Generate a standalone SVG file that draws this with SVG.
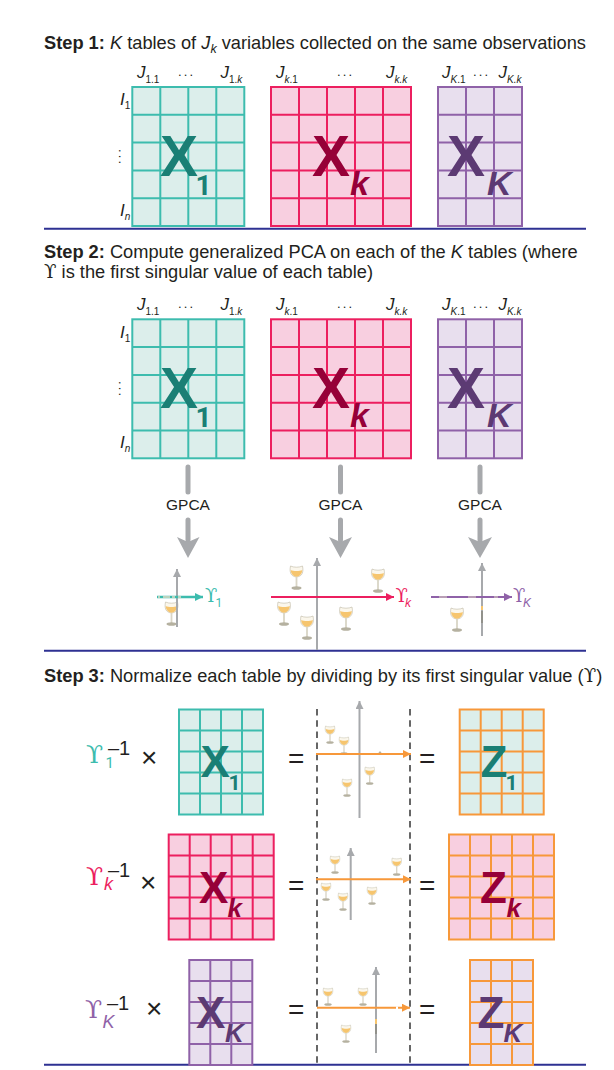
<svg xmlns="http://www.w3.org/2000/svg" width="614" height="1070" viewBox="0 0 614 1070">
<style>
text{font-family:"Liberation Sans",Arial,sans-serif;fill:#231f20}
.h{font-size:18.25px}
.b{font-weight:bold}
.i{font-style:italic}
.u{font-family:"DejaVu Serif","Liberation Serif",serif}
.j{font-size:17px;font-style:italic}
.s{font-size:10px}
.n{font-style:normal}
.d{font-size:13px}
.big{font-weight:bold;font-size:57px}
.sub{font-weight:bold;font-size:28px;font-family:Roboto,"Liberation Sans",sans-serif}
.subi{font-weight:bold;font-style:italic;font-size:34px}
.big3{font-weight:bold;font-size:44px}
.sub3{font-weight:bold;font-size:21px;font-family:Roboto,"Liberation Sans",sans-serif}
.subi3{font-weight:bold;font-style:italic;font-size:26px}
.g{font-size:15.5px;text-anchor:middle}
.m{font-size:20px}
.x{font-size:28px}
.e{font-size:28px}
.nf{font-family:Roboto,"Liberation Sans",sans-serif}
.t{stroke-width:2;stroke:#3dbcae;fill:#dceeeb}
.p{stroke-width:2;stroke:#ec1f5f;fill:#f8cfe0}
.v{stroke-width:2;stroke:#8f62a8;fill:#e8dfee}
.ot{stroke-width:2;stroke:#f7983a;fill:#dceeeb}
.op{stroke-width:2;stroke:#f7983a;fill:#f8cfe0}
.ov{stroke-width:2;stroke:#f7983a;fill:#e8dfee}
.ct{fill:#1a7f75}.cp{fill:#960038}.cv{fill:#5c3a73}
.lt{fill:#3dbcae}.lp{fill:#ec1f5f}.lv{fill:#8f62a8}
.rule{stroke:#2e3192;stroke-width:2}
.arr{stroke:#a7a9ac;stroke-width:5;stroke-linecap:round;fill:none}
.head{fill:#a7a9ac}
.ax{stroke:#a7a9ac;stroke-width:2;fill:none;marker-end:url(#mg)}
.dash{stroke:#666;stroke-width:2;stroke-dasharray:6.5 4.7;fill:none}
.o{stroke:#f7983a;stroke-width:2;fill:none;marker-end:url(#mo)}
</style>
<defs>
<marker id="mg" markerUnits="userSpaceOnUse" markerWidth="9" markerHeight="9" refX="8" refY="4" orient="auto"><path d="M0 0L8 4L0 8z" fill="#a7a9ac"/></marker>
<marker id="mo" markerUnits="userSpaceOnUse" markerWidth="9" markerHeight="9" refX="8" refY="4" orient="auto"><path d="M0 0L8 4L0 8z" fill="#f7983a"/></marker>
<marker id="mt" markerUnits="userSpaceOnUse" markerWidth="9" markerHeight="9" refX="8" refY="4" orient="auto"><path d="M0 0L8 4L0 8z" fill="#3dbcae"/></marker>
<marker id="mp" markerUnits="userSpaceOnUse" markerWidth="9" markerHeight="9" refX="8" refY="4" orient="auto"><path d="M0 0L8 4L0 8z" fill="#ec1f5f"/></marker>
<marker id="mv" markerUnits="userSpaceOnUse" markerWidth="9" markerHeight="9" refX="8" refY="4" orient="auto"><path d="M0 0L8 4L0 8z" fill="#8f62a8"/></marker>
<g id="g4"><rect width="112" height="139"/><path d="M28 0V139M56 0V139M84 0V139M0 27.8H112M0 55.6H112M0 83.4H112M0 111.2H112" fill="none"/></g>
<g id="g5"><rect width="140" height="139"/><path d="M28 0V139M56 0V139M84 0V139M112 0V139M0 27.8H140M0 55.6H140M0 83.4H140M0 111.2H140" fill="none"/></g>
<g id="g3"><rect width="84" height="139"/><path d="M28 0V139M56 0V139M0 27.8H84M0 55.6H84M0 83.4H84M0 111.2H84" fill="none"/></g>
<g id="s4"><rect width="84" height="105"/><path d="M21 0V105M42 0V105M63 0V105M0 21H84M0 42H84M0 63H84M0 84H84" fill="none"/></g>
<g id="s5"><rect width="105" height="105"/><path d="M21 0V105M42 0V105M63 0V105M84 0V105M0 21H105M0 42H105M0 63H105M0 84H105" fill="none"/></g>
<g id="s3"><rect width="63" height="105"/><path d="M21 0V105M42 0V105M0 21H63M0 42H63M0 63H63M0 84H63" fill="none"/></g>
<g id="glass">
<path d="M-6 0C-7.2 6-6 10.4 0 11C6 10.4 7.2 6 6 0C3 1.6-3 1.6-6 0z" fill="#fbf7ec" stroke="#bdb7a2" stroke-width=".6"/>
<path d="M-5.8 4C-3 5.400 3 5.400 5.800 4C5.600 8 3 10.400 0 10.800C-3 10.400-5.600 8-5.800 4z" fill="#f6c56e"/>
<rect x="-.9" y="11" width="1.8" height="10" fill="#d9d5c6"/>
<ellipse cx="0" cy="22" rx="5" ry="1.8" fill="#b5b1a0"/>
</g>
</defs>
<rect width="614" height="1070" fill="#fff"/>

<g id="headings">
<text class="h" x="44" y="49"><tspan class="b">Step 1:</tspan> <tspan class="i">K</tspan> tables of <tspan class="i">J</tspan><tspan class="i" font-size="12.500" dy="4">k</tspan><tspan dy="-4"> variables collected on the same observations</tspan></text>
<text class="h" x="44" y="258"><tspan class="b">Step 2:</tspan> Compute generalized PCA on each of the <tspan class="i">K</tspan> tables (where</text>
<text class="h" x="44" y="278"><tspan class="u">ϒ</tspan> is the first singular value of each table)</text>
<text class="h" x="44" y="682"><tspan class="b">Step 3:</tspan> Normalize each table by dividing by its first singular value (<tspan class="u">ϒ</tspan>)</text>
</g>

<g id="rules">
<path class="rule" d="M44 228.700H586M44 650.700H586M44 1064.700H586"/>
</g>

<g id="step1-x1">
<use href="#g4" class="t" transform="translate(132.300 87)"/>
<text class="big ct" x="160" y="176">X</text><text class="sub ct" x="195.500" y="195">1</text>
</g>
<g id="step1-xk">
<use href="#g5" class="p" transform="translate(271 87)"/>
<text class="big cp" x="312" y="176">X</text><text class="subi cp" x="350" y="195">k</text>
</g>
<g id="step1-xK">
<use href="#g3" class="v" transform="translate(438 87)"/>
<text class="big cv" x="447" y="176">X</text><text class="subi cv" x="487" y="195">K</text>
</g>
<g id="step1-labels">
<text class="j" x="137" y="78">J<tspan class="s n" dy="5">1.1</tspan></text>
<text class="d" x="178" y="76" textLength="15">. . .</text>
<text class="j" x="220.500" y="78">J<tspan class="s n" dy="5">1.<tspan class="i">k</tspan></tspan></text>
<text class="j" x="276" y="78">J<tspan class="s" dy="5">k<tspan class="n">.1</tspan></tspan></text>
<text class="d" x="337" y="76" textLength="15">. . .</text>
<text class="j" x="386" y="78">J<tspan class="s" dy="5">k.k</tspan></text>
<text class="j" x="442" y="78">J<tspan class="s" dy="5">K<tspan class="n">.1</tspan></tspan></text>
<text class="d" x="473" y="76" textLength="15">. . .</text>
<text class="j" x="498.500" y="78">J<tspan class="s" dy="5">K.k</tspan></text>
<text class="j" x="120" y="105">I<tspan class="s n" dy="4">1</tspan></text>
<text class="d" x="119" y="149" textLength="15" transform="rotate(90 119 149)">. . .</text>
<text class="j" x="120" y="216">I<tspan class="s" dy="4">n</tspan></text>
</g>

<g id="step2-x1">
<use href="#g4" class="t" transform="translate(132.300 319.300)"/>
<text class="big ct" x="160" y="408">X</text><text class="sub ct" x="195.500" y="427">1</text>
</g>
<g id="step2-xk">
<use href="#g5" class="p" transform="translate(271 319.300)"/>
<text class="big cp" x="312" y="408">X</text><text class="subi cp" x="350" y="427">k</text>
</g>
<g id="step2-xK">
<use href="#g3" class="v" transform="translate(438 319.300)"/>
<text class="big cv" x="447" y="408">X</text><text class="subi cv" x="487" y="427">K</text>
</g>
<g id="step2-labels">
<text class="j" x="137" y="310">J<tspan class="s n" dy="5">1.1</tspan></text>
<text class="d" x="178" y="308" textLength="15">. . .</text>
<text class="j" x="220.500" y="310">J<tspan class="s n" dy="5">1.<tspan class="i">k</tspan></tspan></text>
<text class="j" x="276" y="310">J<tspan class="s" dy="5">k<tspan class="n">.1</tspan></tspan></text>
<text class="d" x="337" y="308" textLength="15">. . .</text>
<text class="j" x="386" y="310">J<tspan class="s" dy="5">k.k</tspan></text>
<text class="j" x="442" y="310">J<tspan class="s" dy="5">K<tspan class="n">.1</tspan></tspan></text>
<text class="d" x="473" y="308" textLength="15">. . .</text>
<text class="j" x="498.500" y="310">J<tspan class="s" dy="5">K.k</tspan></text>
<text class="j" x="120" y="338">I<tspan class="s n" dy="4">1</tspan></text>
<text class="d" x="119" y="381" textLength="15" transform="rotate(90 119 381)">. . .</text>
<text class="j" x="120" y="448">I<tspan class="s" dy="4">n</tspan></text>
</g>

<g id="connectors">
<path class="arr" d="M188 467V492M188 520V540"/><polygon class="head" points="177,537 188,542 199.500,537 188,558"/>
<path class="arr" d="M340.500 467V492M340.500 520V540"/><polygon class="head" points="329,537 340.500,542 352,537 340.500,558"/>
<path class="arr" d="M480 467V492M480 520V540"/><polygon class="head" points="468,537 480,542 492,537 480,558"/>
</g>
<g id="gpca-1"><text class="g" x="188" y="510">GPCA</text></g>
<g id="gpca-2"><text class="g" x="340.500" y="510">GPCA</text></g>
<g id="gpca-3"><text class="g" x="480" y="510">GPCA</text></g>

<g id="plot-1">
<use href="#glass" transform="translate(171.500 602)"/>
<path class="ax" d="M177 627V569"/>
<path d="M157 597H203" stroke="#3dbcae" stroke-width="2.500" fill="none" marker-end="url(#mt)"/>
<path d="M158 597H160M163 597H170M172 597H175M178 597H181" stroke="#e3dcc4" stroke-width="1.500"/>
<text class="u lt" font-size="18" x="205" y="602">ϒ</text><text class="lt nf" font-size="12" x="215.500" y="607">1</text>
</g>
<g id="plot-k">
<path class="ax" d="M317 650V558"/>
<use href="#glass" transform="translate(296.500 566)"/>
<use href="#glass" transform="translate(378 569)"/>
<use href="#glass" transform="translate(284 602)"/>
<use href="#glass" transform="translate(307 616)"/>
<use href="#glass" transform="translate(346 607)"/>
<path d="M271 597H394" stroke="#ec1f5f" stroke-width="2" fill="none" marker-end="url(#mp)"/>
<text class="u lp" font-size="18" x="395.500" y="602">ϒ</text><text class="lp i" font-size="12" x="405" y="607">k</text>
</g>
<g id="plot-K">
<path class="ax" d="M482 636V563"/>
<use href="#glass" transform="translate(457 608)"/>
<path d="M431 597H512" stroke="#8f62a8" stroke-width="2" fill="none" marker-end="url(#mv)"/>
<path d="M439 597H447M468 597H476M494 597H498" stroke="#e3dcc4" stroke-width="1.200"/>
<path d="M482 606V610" stroke="#f6c56e" stroke-width="2"/><path d="M482 611V623" stroke="#8a8a80" stroke-width="1.500"/>
<text class="u lv" font-size="18" x="513" y="602">ϒ</text><text class="lv i" font-size="12" x="523" y="607">K</text>
</g>

<g id="dashes"><path class="dash" d="M317 709V1064M410 709V1064"/></g>

<g id="row1-factor">
<text class="u lt" font-size="25" x="86" y="763">ϒ</text><text class="lt nf" font-size="15" x="105.500" y="768">1</text>
<text class="m" x="108" y="755">–1</text><text class="x" x="141" y="767">×</text>
</g>
<g id="row1-x">
<use href="#s4" class="t" transform="translate(179 709.500)"/>
<text class="big3 ct" x="200.500" y="777">X</text><text class="sub3 ct" x="228.500" y="790">1</text>
</g>
<g id="row1-plot">
<path class="ax" d="M359.500 818V701"/>
<use href="#glass" transform="translate(330 726) scale(.75)"/>
<use href="#glass" transform="translate(344 737) scale(.75)"/>
<use href="#glass" transform="translate(369.700 767) scale(.75)"/>
<use href="#glass" transform="translate(347 779) scale(.75)"/>
<path d="M378 753.500L380 751L382 753.500z" fill="#b5b1a0"/>
<path class="o" d="M316 754H411"/>
<text class="e" x="288" y="768">=</text>
<text class="e" x="419" y="768">=</text>
</g>
<g id="row1-z">
<use href="#s4" class="ot" transform="translate(459.700 709.500)"/>
<text class="big3 ct" x="480.500" y="777">Z</text><text class="sub3 ct" x="505.500" y="790">1</text>
</g>

<g id="row2-factor">
<text class="u lp" font-size="25" x="86" y="885">ϒ</text><text class="lp i" font-size="18" x="104" y="890">k</text>
<text class="m" x="108" y="877">–1</text><text class="x" x="140" y="892">×</text>
</g>
<g id="row2-x">
<use href="#s5" class="p" transform="translate(168.700 834.500)"/>
<text class="big3 cp" x="199" y="903">X</text><text class="subi3 cp" x="227.500" y="917">k</text>
</g>
<g id="row2-plot">
<path class="ax" d="M350.700 920V848"/>
<use href="#glass" transform="translate(335 856) scale(.75)"/>
<use href="#glass" transform="translate(396.700 858) scale(.75)"/>
<use href="#glass" transform="translate(326 883) scale(.75)"/>
<use href="#glass" transform="translate(343 893) scale(.75)"/>
<use href="#glass" transform="translate(372 887) scale(.75)"/>
<path class="o" d="M316 879.300H411"/>
<text class="e" x="288" y="895">=</text>
<text class="e" x="419" y="895">=</text>
</g>
<g id="row2-z">
<use href="#s5" class="op" transform="translate(449 834.500)"/>
<text class="big3 cp" x="480" y="903">Z</text><text class="subi3 cp" x="506.500" y="917">k</text>
</g>

<g id="row3-factor">
<text class="u lv" font-size="25" x="85" y="1018">ϒ</text><text class="lv i" font-size="18" x="102.500" y="1028">K</text>
<text class="m" x="107" y="1010">–1</text><text class="x" x="146" y="1018">×</text>
</g>
<g id="row3-x">
<use href="#s3" class="v" transform="translate(189.300 960)"/>
<text class="big3 cv" x="196" y="1028">X</text><text class="subi3 cv" x="225" y="1042">K</text>
</g>
<g id="row3-plot">
<path class="ax" d="M376 1053V967"/>
<use href="#glass" transform="translate(328 988) scale(.75)"/>
<use href="#glass" transform="translate(363 988) scale(.75)"/>
<use href="#glass" transform="translate(346 1025) scale(.75)"/>
<path d="M376 1019V1024" stroke="#f6c56e" stroke-width="2"/><path d="M376 1024V1034" stroke="#8a8a80" stroke-width="1.500"/>
<path class="o" d="M317 1007.700H410"/>
<path d="M396 1007.700H398" stroke="#fff" stroke-width="2.500"/>
<text class="e" x="288" y="1019">=</text>
<text class="e" x="419" y="1019">=</text>
</g>
<g id="row3-z">
<use href="#s3" class="ov" transform="translate(470 960)"/>
<text class="big3 cv" x="477.500" y="1028">Z</text><text class="subi3 cv" x="503.500" y="1042">K</text>
</g>
</svg>
